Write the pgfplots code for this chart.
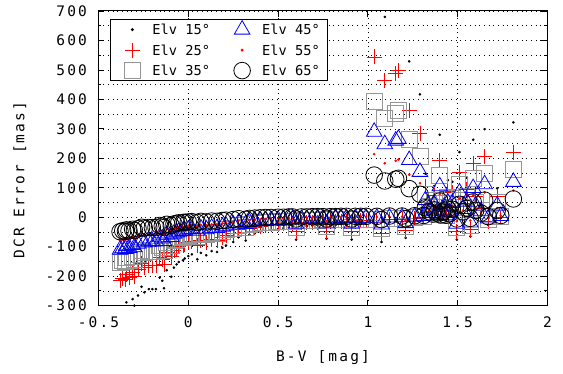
\documentclass[border=0pt]{standalone}
\usepackage{fontspec}
\setmainfont{DejaVu Sans Mono}
\newfontfamily\spaced[LetterSpace=15]{DejaVu Sans Mono}
\usepackage{pgfplots}
\usepackage{pgfplotstable}
\pgfplotsset{compat=1.18}
\definecolor{sqgray}{RGB}{150,150,150}
\definecolor{pred}{RGB}{255,0,0}
\definecolor{tblue}{RGB}{0,0,255}

\pgfplotstableread{
x d15 p25 s35 t45 r55 c65
-0.38 -322 -216 -154 -110 -78 -49
-0.365 -308 -207 -147 -105 -75 -46
-0.35 -317 -212 -151 -108 -77 -48
-0.345 -289 -193 -137 -98 -69 -43
-0.33 -306 -205 -145 -104 -74 -46
-0.31 -278 -186 -132 -94 -66 -41
-0.30 -300 -201 -143 -102 -72 -45
-0.28 -266 -178 -126 -90 -64 -39
-0.26 -236 -157 -111 -79 -56 -34
-0.245 -255 -171 -121 -86 -61 -37
-0.22 -244 -163 -115 -82 -58 -35
-0.20 -244 -163 -115 -82 -58 -35
-0.18 -244 -163 -115 -82 -58 -35
-0.16 -205 -136 -96 -68 -47 -28
-0.145 -216 -144 -102 -72 -50 -30
-0.135 -241 -161 -114 -81 -57 -35
-0.12 -180 -119 -84 -59 -41 -24
-0.095 -202 -134 -95 -67 -47 -28
-0.08 -171 -114 -80 -56 -39 -23
-0.065 -160 -106 -74 -52 -36 -21
-0.053 -152 -100 -70 -49 -34 -19
-0.03 -146 -97 -67 -47 -32 -18
-0.02 -140 -93 -65 -45 -31 -17
0.00 -132 -87 -61 -42 -29 -16
0.02 -126 -83 -58 -40 -27 -15
0.05 -143 -95 -66 -46 -31 -18
0.07 -121 -79 -55 -38 -26 -14
0.10 -129 -85 -59 -41 -28 -16
0.13 -115 -76 -52 -36 -24 -13
0.16 -118 -78 -54 -37 -25 -14
0.19 -104 -68 -47 -32 -21 -11
0.21 -96 -62 -43 -29 -19 -10
0.25 -84 -55 -37 -25 -16 -8
0.28 -68 -43 -29 -19 -12 -5
0.32 -79 -51 -34 -23 -15 -7
0.34 -59 -38 -25 -16 -10 -4
0.37 -54 -34 -22 -14 -8 -3
0.40 -48 -30 -19 -12 -7 -2
0.43 -45 -28 -18 -11 -6 -1
0.46 -42 -26 -17 -10 -5 -1
0.50 -40 -24 -15 -9 -4 0
0.53 -37 -22 -14 -8 -4 0
0.56 -34 -20 -13 -7 -3 1
0.58 -34 -20 -13 -7 -3 1
0.60 -76 -49 -33 -22 -14 -6
0.63 -31 -19 -11 -6 -2 1
0.66 -31 -19 -11 -6 -2 1
0.69 -28 -17 -10 -5 -2 2
0.72 -28 -17 -10 -5 -2 2
0.75 -26 -15 -8 -4 -1 2
0.77 -73 -47 -32 -21 -13 -6
0.79 -26 -15 -8 -4 -1 2
0.82 -26 -15 -8 -4 -1 2
0.85 -23 -13 -7 -3 0 3
0.88 -23 -13 -7 -3 0 3
0.91 -76 -49 -33 -22 -14 -6
0.93 -23 -13 -7 -3 0 3
0.96 -20 -11 -6 -2 1 3
0.99 -20 -11 -6 -2 1 3
1.035 790 544 394 290 214 143
1.05 -20 -11 -6 -2 1 3
1.076 -84 -55 -37 -25 -16 -8
1.094 680 464 337 248 183 123
1.12 -17 -9 -4 -1 1 4
1.155 714 487 353 260 192 129
1.17 730 498 361 266 196 132
1.19 -14 -7 -3 0 2 4
1.21 -70 -45 -30 -20 -12 -5
1.23 529 361 263 194 144 97
1.26 -9 -3 0 2 4 5
1.29 417 285 208 154 115 78
1.31 -3 0 3 4 5 6
1.32 148 103 77 58 45 32
1.34 70 50 38 30 24 19
1.36 25 19 16 14 12 11
1.37 106 75 56 43 34 25
1.385 42 31 24 20 17 14
1.40 280 192 141 105 79 55
1.405 8 8 8 8 8 8
1.415 58 42 33 26 21 17
1.425 86 61 46 36 28 21
1.435 2 4 5 6 7 7
1.445 126 88 66 50 39 28
1.455 30 23 19 16 14 12
1.47 120 84 63 48 37 27
1.495 -76 -49 -33 -22 -14 -6
1.51 221 152 112 84 63 44
1.53 64 46 35 28 23 18
1.55 134 94 70 53 41 30
1.57 -65 -41 -28 -18 -11 -4
1.586 263 181 133 99 74 52
1.60 98 69 52 40 31 23
1.63 42 31 24 20 17 14
1.65 299 206 150 112 84 58
1.67 -26 -15 -8 -4 -1 2
1.72 98 69 52 40 31 23
1.74 -3 0 3 4 5 6
1.81 322 221 161 120 90 62
}\dcr

\begin{document}
\begin{tikzpicture}
\path[use as bounding box] (-98.5pt,-67.4pt) rectangle (464.5pt,305.6pt);
\begin{axis}[
  at={(0pt,0pt)}, anchor=south west,
  scale only axis, width=449pt, height=294.6pt,
  xmin=-0.5, xmax=2, ymin=-300, ymax=700,
  restrict y to domain=-300:700,
  xtick={-0.5,0,0.5,1,1.5,2},
  xticklabels={-0.5,0,0.5,1,1.5,2},
  ytick={-300,-200,-100,0,100,200,300,400,500,600,700},
  yticklabels={-300,-200,-100,0,100,200,300,400,500,600,700},
  minor y tick num=1,
  xmajorgrids=true, ymajorgrids=true, yminorgrids=true,
  grid style={black, line width=0.6pt, dash pattern=on 0.7pt off 4pt},
  minor grid style={black, line width=0.6pt, dash pattern=on 0.7pt off 4pt},
  major tick length=6pt, minor tick length=3pt,
  tick style={black, line width=0.8pt},
  axis line style={line width=1pt},
  ticklabel style={font=\spaced\fontsize{14.5}{17}\selectfont},
  xticklabel style={yshift=-8pt},
  yticklabel style={xshift=-8pt},
  xlabel={\spaced B-V [mag]},
  ylabel={\spaced DCR Error [mas]},
  label style={font=\fontsize{14.5}{17}\selectfont},
  xlabel style={at={(axis description cs:0.5,-0.175)}, anchor=center},
  ylabel style={at={(axis description cs:-0.175,0.426)}, anchor=center},
  legend columns=3,
  transpose legend,
  legend cell align=left,
  legend image code/.code={\path[draw=none,fill=none,opacity=0] (0pt,0pt) -- (34pt,0pt); \draw[#1] plot coordinates {(17pt,0pt)};},
  legend style={at={(axis description cs:0.0256,0.973)}, anchor=north west,
    draw=black, line width=0.8pt, inner xsep=5pt, inner ysep=0pt,
    font=\fontsize{13.7}{16}\selectfont,
    nodes={inner xsep=3pt, inner ysep=5pt, text height=10.5pt, text depth=0pt},
    /tikz/every even column/.append style={column sep=12pt}},
]
\addplot[only marks, mark=*, mark size=1.1pt, draw=black, fill=black] table[x=x, y=d15] {\dcr};
\addlegendentry{Elv 15°}
\addplot[only marks, mark=+, mark size=7.5pt, draw=pred, line width=0.8pt] table[x=x, y=p25] {\dcr};
\addlegendentry{Elv 25°}
\addplot[only marks, mark=square, mark size=8pt, draw=sqgray, line width=0.8pt] table[x=x, y=s35] {\dcr};
\addlegendentry{Elv 35°}
\addplot[only marks, mark=triangle, mark size=9pt, draw=tblue, line width=0.8pt] table[x=x, y=t45] {\dcr};
\addlegendentry{Elv 45°}
\addplot[only marks, mark=*, mark size=1.1pt, draw=pred, fill=pred] table[x=x, y=r55] {\dcr};
\addlegendentry{Elv 55°}
\addplot[only marks, mark=o, mark size=8.3pt, draw=black, line width=0.8pt] table[x=x, y=c65] {\dcr};
\addlegendentry{Elv 65°}
\end{axis}
\end{tikzpicture}
\end{document}
